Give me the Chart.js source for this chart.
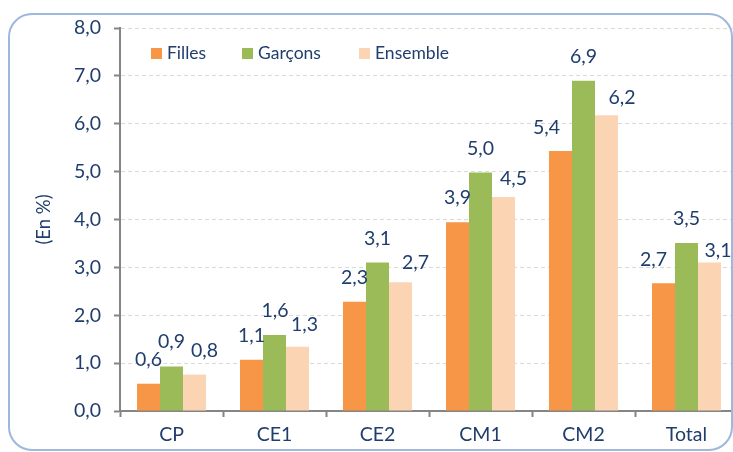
<!DOCTYPE html>
<html>
<head>
<meta charset="utf-8">
<script src="https://cdn.jsdelivr.net/npm/chart.js@4"></script>
<style>
html,body{margin:0;padding:0;background:#fff;overflow:hidden;width:733px;height:452px;}
#wrap{position:absolute;left:0;top:0;width:745px;height:452px;}
#frame{position:absolute;left:8px;top:13px;width:721px;height:434px;border:2px solid #9DB8DC;border-radius:24px;pointer-events:none;}
#legend{position:absolute;left:151px;top:43px;font-family:Lato,"Open Sans",sans-serif;font-size:17.5px;color:#1F3D6D;white-space:nowrap;}
#legend span.item{position:absolute;top:0;line-height:20px;}
#legend i{display:inline-block;width:11px;height:11px;margin-right:5px;vertical-align:0px;}
</style>
</head>
<body>
<div id="wrap"><canvas id="c" width="745" height="452"></canvas></div>
<div id="frame"></div>
<div id="legend"></div>
<script>
const categories = ['CP','CE1','CE2','CM1','CM2','Total'];
const filles   = [0.57, 1.07, 2.28, 3.94, 5.43, 2.67];
const garcons  = [0.93, 1.59, 3.10, 4.98, 6.90, 3.51];
const ensemble = [0.76, 1.34, 2.69, 4.47, 6.18, 3.10];
const seriesNames = ['Filles','Garçons','Ensemble'];
const yTicks = [0,1,2,3,4,5,6,7,8];

const colors = ['#F79646','#9BBB59','#FBD4B4'];
const textColor = '#1F3D6D';
const fontFamily = 'Lato, "Open Sans", sans-serif';
const fmt = v => v.toFixed(1).replace('.', ',');

// label placement nudges (styling, per series / category)
const labelDx  = [[0,0,0,0,-14,-10],[0,0.5,0,0,0,0],[10,7,15,10,15.5,8.5]];
const labelGap = [[18,18,18,18,17.5,17.5],[18,18,18,18,17.5,18],[18,16,13,12,11,6]];

// HTML legend
const legendOffsets = [0, 91, 208];
const leg = document.getElementById('legend');
seriesNames.forEach((n,i)=>{
  const s = document.createElement('span');
  s.className='item';
  s.style.left = legendOffsets[i]+'px';
  s.innerHTML = '<i style="background:'+colors[i]+'"></i>'+n;
  leg.appendChild(s);
});

const labelPlugin = {
  id:'valueLabels',
  afterDatasetsDraw(chart){
    const ctx = chart.ctx;
    ctx.save();
    ctx.font = '19.5px ' + fontFamily;
    ctx.fillStyle = textColor;
    ctx.textAlign = 'center';
    ctx.textBaseline = 'alphabetic';
    chart.data.datasets.forEach((ds,di)=>{
      chart.getDatasetMeta(di).data.forEach((bar,i)=>{
        ctx.fillText(fmt(ds.data[i]), bar.x + labelDx[di][i], bar.y - labelGap[di][i]);
      });
    });
    ctx.restore();
  }
};

new Chart(document.getElementById('c'), {
  type:'bar',
  data:{
    labels: categories,
    datasets: [filles, garcons, ensemble].map((d,i)=>({
      label: seriesNames[i],
      data: d,
      backgroundColor: colors[i],
      borderWidth: 0,
      barPercentage: 1,
      categoryPercentage: 0.67
    }))
  },
  options:{
    responsive:false,
    animation:false,
    layout:{padding:{left:0,right:7,top:28,bottom:0}},
    plugins:{legend:{display:false},tooltip:{enabled:false}},
    scales:{
      x:{
        offset:true,
        grid:{offset:true,drawOnChartArea:false,drawTicks:true,tickLength:6,tickColor:'#858585',tickWidth:2},
        border:{display:true,color:'#858585',width:2},
        ticks:{color:textColor,font:{family:fontFamily,size:19.5},padding:6},
        afterFit(s){ s.height = 41; }
      },
      y:{
        min:0,max:8,
        afterBuildTicks(s){ s.ticks = yTicks.map(v=>({value:v})); },
        grid:{color:'#D9D9D9',lineWidth:1,drawTicks:true,tickLength:6,tickColor:'#858585',tickWidth:2,tickBorderDash:[]},
        border:{display:true,color:'#858585',width:2,dash:[4,3]},
        ticks:{color:textColor,font:{family:fontFamily,size:19.5},padding:13,callback:v=>fmt(v)},
        title:{display:true,text:'(En %)',color:textColor,font:{family:fontFamily,size:18.5},padding:{top:33,bottom:0}},
        afterFit(s){ s.width = 120; }
      }
    }
  },
  plugins:[labelPlugin]
});
</script>
</body>
</html>
